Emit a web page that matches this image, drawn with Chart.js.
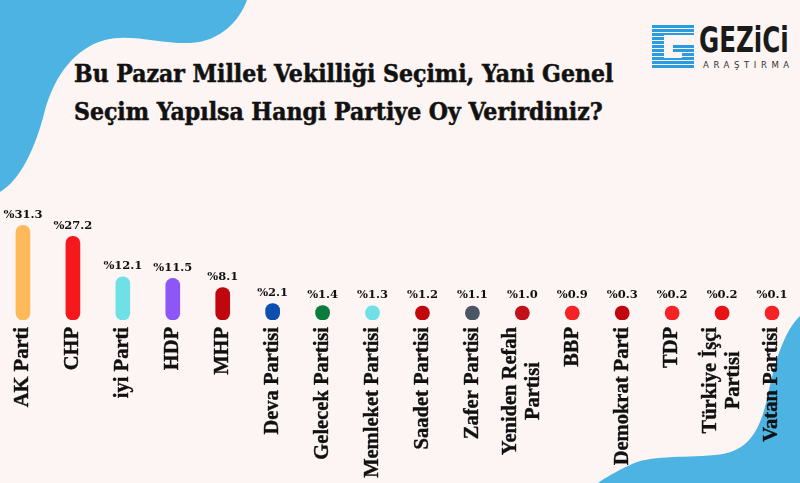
<!DOCTYPE html>
<html>
<head>
<meta charset="utf-8">
<script src="https://cdn.jsdelivr.net/npm/chart.js@4.4.1/dist/chart.umd.min.js"></script>
<style>
  html, body { margin: 0; padding: 0; }
  body { width: 800px; height: 483px; overflow: hidden; background: #fcf5f3; position: relative; }
  #blobs { position: absolute; left: 0; top: 0; }
  #title {
    position: absolute; left: 74px; top: 55px; width: 640px; white-space: nowrap;
    font-family: "DejaVu Serif Condensed", "DejaVu Serif", serif; font-stretch: condensed;
    font-weight: bold; font-size: 24.5px; line-height: 38px; color: #111;
    -webkit-text-stroke: 0.5px #111;
  }
  #logo-name {
    position: absolute; left: 699px; top: 19px; white-space: nowrap;
    font-family: "DejaVu Sans Condensed", "DejaVu Sans", sans-serif; font-stretch: condensed;
    font-weight: bold; font-size: 36px; line-height: 42px; color: #1a1a1a;
    transform: scaleX(0.76); transform-origin: left top;
  }
  #logo-sub {
    position: absolute; left: 703px; top: 60px;
    font-family: "DejaVu Sans", sans-serif; font-size: 8.5px; letter-spacing: 4.6px; color: #333;
  }
  #wrap { position: absolute; left: -2px; top: 202px; width: 799px; height: 281px; }
</style>
</head>
<body>
<svg id="blobs" width="800" height="483">
  <path d="M0,0 L247,0 C240,20 220,42 190,43 C160,44 130,33 105,40 C75,48 55,75 45,110 C35,150 20,180 0,192 Z" fill="#4cb3e3"/>
  <path d="M800,316 C785,330 775,360 768,395 C760,430 750,452 715,455 C680,458 650,455 630,465 C615,472 605,478 598,483 L800,483 Z" fill="#4cb3e3"/>
  <g fill="#2b9be0">
    <rect x="652" y="25" width="42" height="10"/>
    <rect x="652" y="25" width="12" height="43"/>
    <rect x="652" y="58" width="42" height="10"/>
    <rect x="682" y="44" width="12" height="24"/>
    <rect x="673" y="44" width="21" height="8"/>
  </g>
  <g stroke="#fcf5f3" stroke-width="1">
    <line x1="650" y1="28.5" x2="696" y2="28.5"/>
    <line x1="650" y1="32.5" x2="696" y2="32.5"/>
    <line x1="650" y1="36.5" x2="696" y2="36.5"/>
    <line x1="650" y1="40.5" x2="696" y2="40.5"/>
    <line x1="650" y1="44.5" x2="696" y2="44.5"/>
    <line x1="650" y1="48.5" x2="696" y2="48.5"/>
    <line x1="650" y1="52.5" x2="696" y2="52.5"/>
    <line x1="650" y1="56.5" x2="696" y2="56.5"/>
    <line x1="650" y1="60.5" x2="696" y2="60.5"/>
    <line x1="650" y1="64.5" x2="696" y2="64.5"/>
  </g>
</svg>
<div id="title">Bu Pazar Millet Vekilliği Seçimi, Yani Genel<br>Seçim Yapılsa Hangi Partiye Oy Verirdiniz?</div>
<div id="logo-name">GEZiCi</div>
<div id="logo-sub">ARAŞTIRMA</div>
<div id="wrap"><canvas id="myChart"></canvas></div>
<script>
const parties = ['AK Parti', 'CHP', 'iyi Parti', 'HDP', 'MHP', 'Deva Partisi', 'Gelecek Partisi',
    'Memleket Partisi', 'Saadet Partisi', 'Zafer Partisi', ['Yeniden Refah', 'Partisi'], 'BBP',
    'Demokrat Parti', 'TDP', ['Türkiye İşçi', 'Partisi'], 'Vatan Partisi'];
const votes = [31.3, 27.2, 12.1, 11.5, 8.1, 2.1, 1.4, 1.3, 1.2, 1.1, 1.0, 0.9, 0.3, 0.2, 0.2, 0.1];
const partyColors = ['#fdb95a', '#f5191e', '#6ee0e6', '#8d56f7', '#c1070e', '#0c4fb0', '#0c7c3c',
    '#6ee0e6', '#c1070e', '#4b5563', '#c1111a', '#f52226', '#c1070e', '#f52226', '#e81216', '#f52226'];

// percentage labels above the bars
const valueLabels = {
    id: 'valueLabels',
    afterDatasetsDraw(chart) {
        const c = chart.ctx;
        c.save();
        c.font = 'bold 11.5px "DejaVu Serif", serif';
        c.fillStyle = '#111';
        c.textAlign = 'center';
        c.textBaseline = 'bottom';
        chart.getDatasetMeta(0).data.forEach((bar, i) => {
            c.fillText('%' + votes[i].toFixed(1), bar.x, bar.y - 5);
        });
        c.restore();
    }
};

// vertical party names, lines centred on each other
const partyLabels = {
    id: 'partyLabels',
    afterDraw(chart) {
        const c = chart.ctx;
        const xs = chart.scales.x;
        const top = chart.chartArea.bottom + 7;
        c.save();
        c.font = 'bold 20.5px "Liberation Serif", serif';
        c.fillStyle = '#111';
        c.strokeStyle = '#111';
        c.lineWidth = 0.4;
        c.textAlign = 'right';
        c.textBaseline = 'middle';
        parties.forEach((lab, i) => {
            const lines = Array.isArray(lab) ? lab : [lab];
            const maxW = Math.max(...lines.map(l => c.measureText(l).width));
            c.save();
            c.translate(xs.getPixelForValue(i), top);
            c.rotate(-Math.PI / 2);
            lines.forEach((l, j) => {
                const w = c.measureText(l).width;
                const lx = -(maxW - w) / 2, ly = (j - (lines.length - 1) / 2) * 23;
                c.fillText(l, lx, ly);
                c.strokeText(l, lx, ly);
            });
            c.restore();
        });
        c.restore();
    }
};

const ctx = document.getElementById('myChart');

new Chart(ctx, {
    type: 'bar',
    data: {
        labels: parties,
        datasets: [{
            data: votes,
            backgroundColor: partyColors,
            base: -4,
            barThickness: 14,
            borderRadius: 7,
            borderSkipped: false,
            minBarLength: 14
        }]
    },
    options: {
        responsive: true,
        maintainAspectRatio: false,
        animation: false,
        layout: { padding: 0 },
        plugins: {
            legend: { display: false },
            tooltip: { enabled: false }
        },
        scales: {
            x: {
                grid: { display: false },
                border: { display: false },
                ticks: { display: false },
                afterFit(scale) { scale.height = 163; }
            },
            y: {
                display: false,
                min: -4,
                max: 40
            }
        }
    },
    plugins: [valueLabels, partyLabels]
});
</script>
</body>
</html>
